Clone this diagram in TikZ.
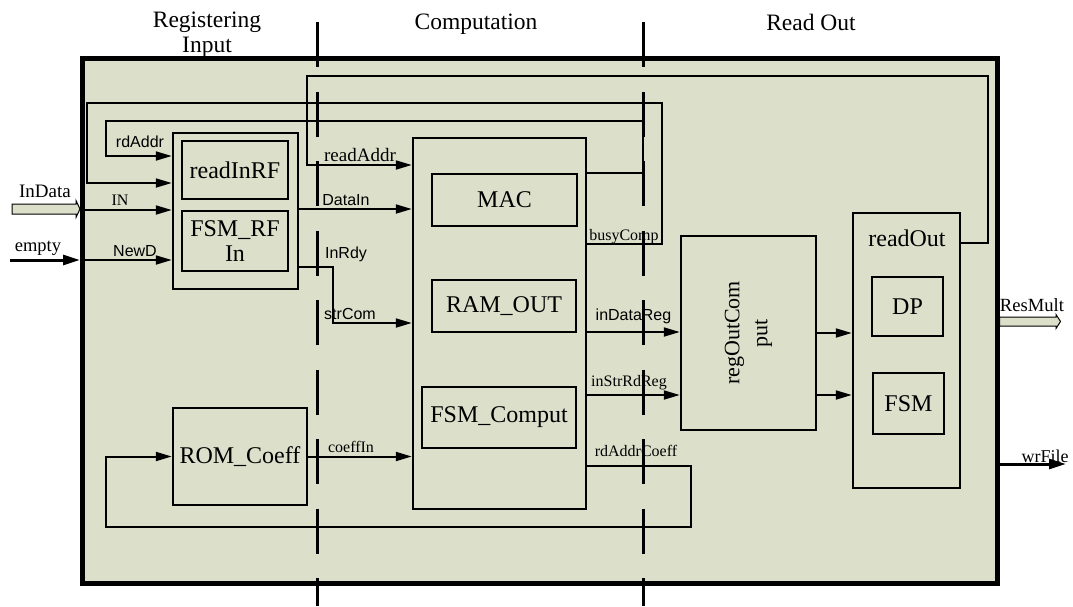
\documentclass[tikz,border=0pt]{standalone}
\usepackage{fontspec}
\setmainfont{Liberation Serif}
\setsansfont{Liberation Sans}
\usetikzlibrary{arrows.meta}
\definecolor{bg}{RGB}{220,224,203}
\begin{document}
\begin{tikzpicture}[x=1pt,y=-1pt,
  box/.style={draw, line width=2.5pt, fill=bg, inner sep=0pt, align=center,
    font=\fontsize{24}{25}\selectfont},
  wire/.style={line width=2pt},
  arr/.style={wire, -{Triangle[length=16pt,width=9pt]}},
  lbls/.style={font=\sffamily\fontsize{16}{18}\selectfont, anchor=base, inner sep=0pt},
  lblr/.style={font=\fontsize{16}{18}\selectfont, anchor=base, inner sep=0pt},
  lblb/.style={font=\fontsize{19}{20}\selectfont, anchor=base, inner sep=0pt},
  sect/.style={font=\fontsize{23.5}{25}\selectfont, anchor=base, inner sep=0pt},
  divider/.style={line width=3pt, dash pattern=on 45pt off 24.5pt},
  blockarrow/.style={draw, line width=1pt, fill=bg, line join=miter},
  thickarr/.style={line width=3pt, -{Triangle[length=17pt,width=10pt]}}
]
\useasboundingbox (0,0) rectangle (1073,606);

% outer frame
\node[draw, line width=5pt, fill=bg, inner sep=0pt, minimum width=914.5pt, minimum height=524.5pt] (outer) at (539.75,320.75) {};

% section titles
\node[sect] (t1a) at (207,27) {Registering};
\node[sect] (t1b) at (207,52) {Input};
\node[sect] (t2) at (476,29) {Computation};
\node[sect] (t3) at (811,30) {Read Out};

% blocks
\node[box, minimum width=125pt, minimum height=156pt] (rf) at (235.5,211) {};
\node[box, minimum width=106pt, minimum height=58pt] (readin) at (235,170) {readInRF};
\node[box, minimum width=106pt, minimum height=60pt] (fsmrf) at (235,241) {FSM\_RF\\In};
\node[box, minimum width=134pt, minimum height=97pt] (rom) at (240,456.5) {ROM\_Coeff};
\node[box, minimum width=173pt, minimum height=371pt] (comp) at (499.5,323.5) {};
\node[box, minimum width=145pt, minimum height=52pt] (mac) at (504.5,200) {MAC};
\node[box, minimum width=144pt, minimum height=52pt] (ramout) at (504,306) {RAM\_OUT};
\node[box, minimum width=154pt, minimum height=61pt] (fsmc) at (499,417.5) {FSM\_Comput};
\node[box, minimum width=135pt, minimum height=194pt] (regout) at (748.5,333) {};
\node[rotate=90, align=center, inner sep=0pt, font=\fontsize{22}{28}\selectfont] (regoutlbl) at (regout.center) {regOutCom\\put};
\node[box, minimum width=107pt, minimum height=275pt] (readout) at (906.5,350.5) {};
\node[font=\fontsize{24}{25}\selectfont, anchor=base, inner sep=0pt] (readoutlbl) at (907,246.5) {readOut};
\node[box, minimum width=71pt, minimum height=59pt] (dp) at (907.5,306.5) {DP};
\node[box, minimum width=71pt, minimum height=61pt] (fsm) at (908.5,403.5) {FSM};

% external inputs
\coordinate (indataStart) at (12,209);
\draw[blockarrow] (indataStart) ++(0,-5) -- ++(64,0) -- ++(0,-3.5) -- (outer.west|-indataStart) -- (76,217.5) -- ++(0,-3.5) -- (12,214) -- cycle;
\node[lblb] (indatalbl) at (45,197) {InData};
\coordinate (emptyStart) at (10,260);
\draw[thickarr] (emptyStart) -- (outer.west|-emptyStart);
\node[font=\fontsize{18.5}{20}\selectfont, anchor=base, inner sep=0pt] (emptylbl) at (38,251) {empty};

% outputs
\coordinate (resEnd) at (1060.5,321.5);
\draw[blockarrow] (outer.east|-0,317) -- (1056,317) -- (1056,314.5) -- (resEnd) -- (1056,328.5) -- (1056,326) -- (outer.east|-0,326) -- cycle;
\node[font=\fontsize{18.6}{20}\selectfont, anchor=base, inner sep=0pt] (reslbl) at (1032,311.5) {ResMult};
\coordinate (wrEnd) at (1066,464);
\draw[thickarr] (outer.east|-wrEnd) -- (wrEnd);
\node[font=\fontsize{18}{20}\selectfont, anchor=base, inner sep=0pt] (wrlbl) at (1045,462) {wrFile};

% wires
\draw[arr] (comp.east|-0,244) -| (662,103) -| (87,183) -- (rf.west|-0,183);
\draw[arr] (comp.east|-0,173) -| (643,121) -| (106,156) -- (rf.west|-0,156);
\draw[arr] (outer.west|-0,210) -- (rf.west|-0,210);
\draw[arr] (outer.west|-0,260) -- (rf.west|-0,260);
\draw[arr] (rf.east|-0,209) -- (comp.west|-0,209);
\draw[arr] (rf.east|-0,267) -| (333,323) -- (comp.west|-0,323);
\draw[arr] (readout.east|-0,243) -| (988,76) -| (307,165) -- (comp.west|-0,165);
\draw[arr] (rom.east) -- (comp.west|-rom.east);
\draw[arr] (comp.east|-0,466) -| (691,527) -| (106,456.5) -- (rom.west);
\draw[arr] (comp.east|-0,332) -- (regout.west|-0,332);
\draw[arr] (comp.east|-0,395) -- (regout.west|-0,395);
\draw[arr] (regout.east|-0,333) -- (readout.west|-0,333);
\draw[arr] (regout.east|-0,395) -- (readout.west|-0,395);

% wire labels
\node[lbls] (l1) at (140,147) {rdAddr};
\node[lblr] (l2) at (120,205) {IN};
\node[lbls] (l3) at (135,256) {NewD};
\node[lblb] (l4) at (360,161) {readAddr};
\node[lbls] (l5) at (346,205) {DataIn};
\node[lbls] (l6) at (346,258) {InRdy};
\node[lbls] (l7) at (350,319.5) {strCom};
\node[lblr] (l8) at (351,452.5) {coeffIn};
\node[lblr] (l9) at (624,240) {busyComp};
\node[lbls] (l10) at (633.5,320) {inDataReg};
\node[lblr] (l11) at (629,386) {inStrRdReg};
\node[lblr] (l12) at (636,456.5) {rdAddrCoeff};

% stage dividers
\coordinate (d1top) at (317,22);
\coordinate (d1bot) at (317,606);
\coordinate (d2top) at (643,22);
\coordinate (d2bot) at (643,606);
\draw[divider] (d1top) -- (d1bot);
\draw[divider] (d2top) -- (d2bot);
\end{tikzpicture}
\end{document}
